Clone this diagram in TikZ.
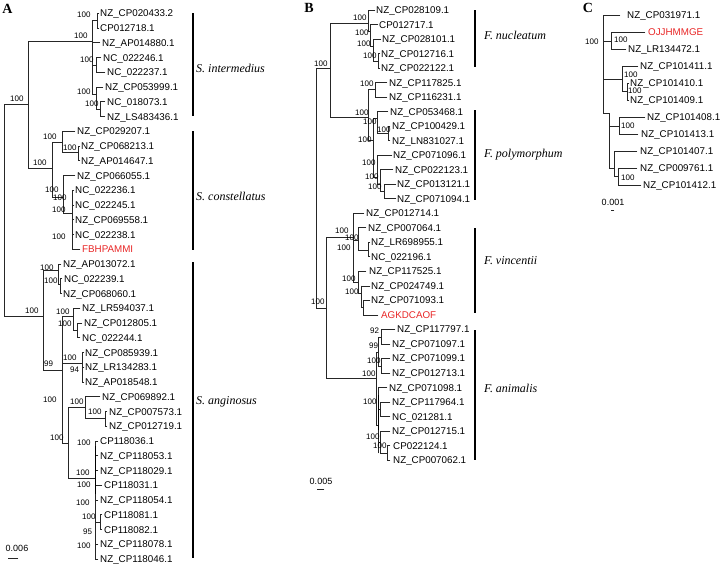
\documentclass[tikz,border=0pt]{standalone}
\usepackage{fontspec}
\setmainfont{Liberation Serif}
\setsansfont{Liberation Sans}
\definecolor{lred}{RGB}{232,38,38}
\tikzset{
 br/.style={line width=0.7pt, black!85, line cap=rect},
 cbar/.style={line width=1.6pt, black},
 leaf/.style={font=\sffamily\fontsize{9.8}{10}\selectfont, anchor=base west, inner sep=0pt, yshift=-3.5pt},
 sup/.style={font=\sffamily\fontsize{8}{8}\selectfont, anchor=base west, inner sep=0pt, yshift=-2.9pt},
 clade/.style={font=\rmfamily\itshape\fontsize{12}{12}\selectfont, anchor=base west, inner sep=0pt, yshift=-4pt},
 panel/.style={font=\rmfamily\bfseries\fontsize{14}{14}\selectfont, inner sep=0pt},
 scl/.style={font=\sffamily\fontsize{9}{9}\selectfont, inner sep=0pt, anchor=base, yshift=-3.2pt},
}
\begin{document}
\begin{tikzpicture}[x=1pt,y=-1pt]
\useasboundingbox (0,0) rectangle (722,565);
% ================= Panel A =================
\node[panel] (pA) at (7.5,9) {A};
\draw[br] (4,104)--(4,316) (4,104)--(28,104) (28,41)--(28,168) (28,41)--(92,41) (92,20)--(92,94);
\draw[br] (92,20)--(97,20) (97,13.3)--(97,28.05) (97,13.3)--(99,13.3) (97,28.05)--(99,28.05);
\draw[br] (92,42.8)--(100,42.8);
\draw[br] (92,65)--(96,65) (96,57.55)--(96,72.3) (96,57.55)--(101,57.55) (96,72.3)--(105,72.3);
\draw[br] (92,94)--(96,94) (96,87.05)--(96,109) (96,87.05)--(103,87.05) (96,109)--(100,109) (100,101.8)--(100,116.55) (100,101.8)--(105,101.8) (100,116.55)--(105,116.55);
\draw[br] (28,168)--(52,168) (52,142)--(52,197);
\draw[br] (52,142)--(62,142) (62,131.3)--(62,152) (62,131.3)--(75,131.3) (62,152)--(78,152) (78,146.05)--(78,160.8) (78,146.05)--(80,146.05) (78,160.8)--(80,160.8);
\draw[br] (52,197)--(63,197) (63,175.55)--(63,213) (63,175.55)--(75,175.55) (63,213)--(72,213) (72,190.3)--(72,249.3);
\foreach \y in {190.3,205.05,219.8,234.55} \draw[br] (72,\y)--(74,\y);
\draw[br] (72,249.3)--(80,249.3);
\draw[br] (4,316)--(43,316) (43,270)--(43,370);
\draw[br] (43,270)--(58,270) (58,264.05)--(58,284) (58,264.05)--(61,264.05) (58,284)--(60,284) (60,278.8)--(60,293.55) (60,278.8)--(62,278.8) (60,293.55)--(62,293.55);
\draw[br] (43,370)--(62,370) (62,316)--(62,443);
\draw[br] (62,316)--(73,316) (73,308.3)--(73,330) (73,308.3)--(80,308.3) (73,330)--(77,330) (77,323.05)--(77,337.8) (77,323.05)--(82,323.05) (77,337.8)--(80,337.8);
\draw[br] (62,363)--(82,363) (82,352.55)--(82,382.05);
\foreach \y in {352.55,367.3,382.05} \draw[br] (82,\y)--(84,\y);
\draw[br] (62,443)--(68,443) (68,407)--(68,478);
\draw[br] (68,407)--(85,407) (85,396.8)--(85,418) (85,396.8)--(100,396.8) (85,418)--(105,418) (105,411.55)--(105,426.3) (105,411.55)--(107,411.55) (105,426.3)--(107,426.3);
\draw[br] (68,478)--(95,478) (95,441.05)--(95,559.05);
\foreach \y in {441.05,455.8,470.55,500.05,544.3,559.05} \draw[br] (95,\y)--(98,\y);
\draw[br] (95,485.3)--(102,485.3);
\draw[br] (95,522)--(100,522) (100,514.8)--(100,529.55) (100,514.8)--(102,514.8) (100,529.55)--(102,529.55);
\draw[line width=1.3pt] (95.5,446)--(95.5,494);
% leaves A
\node[leaf] (a1) at (100,13.3) {NZ\_CP020433.2};
\node[leaf] (a2) at (100,28.05) {CP012718.1};
\node[leaf] (a3) at (102,42.8) {NZ\_AP014880.1};
\node[leaf] (a4) at (103,57.55) {NC\_022246.1};
\node[leaf] (a5) at (107,72.3) {NC\_022237.1};
\node[leaf] (a6) at (105,87.05) {NZ\_CP053999.1};
\node[leaf] (a7) at (107,101.8) {NC\_018073.1};
\node[leaf] (a8) at (107,116.55) {NZ\_LS483436.1};
\node[leaf] (a9) at (77,131.3) {NZ\_CP029207.1};
\node[leaf] (a10) at (81,146.05) {NZ\_CP068213.1};
\node[leaf] (a11) at (81,160.8) {NZ\_AP014647.1};
\node[leaf] (a12) at (77,175.55) {NZ\_CP066055.1};
\node[leaf] (a13) at (75,190.3) {NC\_022236.1};
\node[leaf] (a14) at (75,205.05) {NC\_022245.1};
\node[leaf] (a15) at (75,219.8) {NZ\_CP069558.1};
\node[leaf] (a16) at (75,234.55) {NC\_022238.1};
\node[leaf,text=lred] (a17) at (82,249.3) {FBHPAMMI};
\node[leaf] (a18) at (63,264.05) {NZ\_AP013072.1};
\node[leaf] (a19) at (64,278.8) {NC\_022239.1};
\node[leaf] (a20) at (63,293.55) {NZ\_CP068060.1};
\node[leaf] (a21) at (82,308.3) {NZ\_LR594037.1};
\node[leaf] (a22) at (84,323.05) {NZ\_CP012805.1};
\node[leaf] (a23) at (82,337.8) {NC\_022244.1};
\node[leaf] (a24) at (85,352.55) {NZ\_CP085939.1};
\node[leaf] (a25) at (85,367.3) {NZ\_LR134283.1};
\node[leaf] (a26) at (85,382.05) {NZ\_AP018548.1};
\node[leaf] (a27) at (102,396.8) {NZ\_CP069892.1};
\node[leaf] (a28) at (109,411.55) {NZ\_CP007573.1};
\node[leaf] (a29) at (109,426.3) {NZ\_CP012719.1};
\node[leaf] (a30) at (100,441.05) {CP118036.1};
\node[leaf] (a31) at (100,455.8) {NZ\_CP118053.1};
\node[leaf] (a32) at (100,470.55) {NZ\_CP118029.1};
\node[leaf] (a33) at (104,485.3) {CP118031.1};
\node[leaf] (a34) at (100,500.05) {NZ\_CP118054.1};
\node[leaf] (a35) at (104,514.8) {CP118081.1};
\node[leaf] (a36) at (104,529.55) {CP118082.1};
\node[leaf] (a37) at (100,544.3) {NZ\_CP118078.1};
\node[leaf] (a38) at (100,559.05) {NZ\_CP118046.1};
% supports A
\foreach \x/\y/\t in {10/99/100,74/36/100,77/15/100,80/60/100,77/92/100,85/104/100,
 33/163/100,43/137/100,63/148/100,45/190/100,53/198/100,52/210/100,52/237/100,
 25/311/100,40/268/100,44/281/100,44/364/99,56/312/100,58/324/100,63/358/100,70/370/94,
 43/400/100,50/438/100,70/402/100,88/412/100,76/473/100,77/443/100,77/485/100,76/503/100,
 82/517/100,83/532/95,77/546/100}
 \node[sup] at (\x,\y) {\t};
\draw[cbar] (193,13)--(193,116) (193,131)--(193,250) (193,262)--(193,558);
\node[clade] (sA1) at (196,68) {S. intermedius};
\node[clade] (sA2) at (196,196) {S. constellatus};
\node[clade] (sA3) at (196,400) {S. anginosus};
\node[scl] (scA) at (17,548) {0.006};
\draw[br] (8,558)--(18,558);
% ================= Panel B =================
\node[panel] (pB) at (309,8) {B};
\draw[br] (316,68)--(316,308) (316,68)--(330,68) (316,308)--(326,308);
\draw[br] (330,23)--(330,117) (330,23)--(368,23);
\draw[br] (368,10)--(368,31) (368,10)--(375,10) (368,31)--(370,31) (370,24.52)--(370,46) (370,24.52)--(378,24.52)
 (370,46)--(373,46) (373,39.04)--(373,61) (373,39.04)--(381,39.04) (373,61)--(378,61) (378,53.56)--(378,68.08) (378,53.56)--(380,53.56) (378,68.08)--(380,68.08);
\draw[br] (330,117)--(368,117) (368,89)--(368,140);
\draw[br] (368,89)--(375,89) (375,82.6)--(375,97.12) (375,82.6)--(387,82.6) (375,97.12)--(387,97.12);
\draw[br] (368,140)--(373,140) (373,118)--(373,177);
\draw[br] (373,118)--(377,118) (377,111.64)--(377,133) (377,111.64)--(388,111.64) (377,133)--(388,133) (388,126.16)--(388,140.68) (388,126.16)--(390,126.16) (388,140.68)--(390,140.68);
\draw[br] (373,177)--(377,177) (377,155.2)--(377,184) (377,155.2)--(392,155.2) (377,184)--(380,184) (380,169.72)--(380,191.5) (380,169.72)--(393,169.72)
 (380,191.5)--(384,191.5) (384,184.24)--(384,198.76) (384,184.24)--(396,184.24) (384,198.76)--(396,198.76);
\draw[br] (326,237)--(326,378) (326,237)--(353,237) (353,213.28)--(353,282) (353,213.28)--(364,213.28);
\draw[br] (353,240)--(358,240) (358,227.8)--(358,250) (358,227.8)--(366,227.8) (358,250)--(368,250) (368,242.32)--(368,256.84) (368,242.32)--(370,242.32) (368,256.84)--(370,256.84);
\draw[br] (353,282)--(358,282) (358,271.36)--(358,293) (358,271.36)--(366,271.36) (358,293)--(361,293) (361,285.88)--(361,307.5) (361,285.88)--(370,285.88)
 (361,307.5)--(363,307.5) (363,300.4)--(363,314.92) (363,300.4)--(370,300.4) (363,314.92)--(378,314.92);
\draw[br] (326,378)--(376,378) (376,352)--(376,425);
\draw[br] (376,352)--(378,352) (378,337)--(378,366) (378,337)--(381,337) (381,329.44)--(381,344) (381,329.44)--(395,329.44) (381,343.96)--(390,343.96)
 (378,366)--(381,366) (381,358.48)--(381,373) (381,358.48)--(390,358.48) (381,373)--(390,373);
\draw[br] (376,425)--(378,425) (378,387.52)--(378,453) (378,387.52)--(387,387.52)
 (378,409)--(380,409) (380,402.04)--(380,416.56) (380,402.04)--(390,402.04) (380,416.56)--(390,416.56)
 (378,442)--(380,442) (380,431.08)--(380,453) (380,431.08)--(390,431.08) (380,453)--(387,453) (387,445.6)--(387,460.12) (387,445.6)--(390,445.6) (387,460.12)--(390,460.12);
\draw[line width=1.3pt] (378.3,395)--(378.3,430);
% leaves B
\node[leaf] (b1) at (376,10) {NZ\_CP028109.1};
\node[leaf] (b2) at (379,24.52) {CP012717.1};
\node[leaf] (b3) at (382,39.04) {NZ\_CP028101.1};
\node[leaf] (b4) at (381,53.56) {NZ\_CP012716.1};
\node[leaf] (b5) at (381,68.08) {NZ\_CP022122.1};
\node[leaf] (b6) at (389,82.6) {NZ\_CP117825.1};
\node[leaf] (b7) at (389,97.12) {NZ\_CP116231.1};
\node[leaf] (b8) at (390,111.64) {NZ\_CP053468.1};
\node[leaf] (b9) at (392,126.16) {NZ\_CP100429.1};
\node[leaf] (b10) at (392,140.68) {NZ\_LN831027.1};
\node[leaf] (b11) at (393,155.2) {NZ\_CP071096.1};
\node[leaf] (b12) at (395,169.72) {NZ\_CP022123.1};
\node[leaf] (b13) at (397,184.24) {NZ\_CP013121.1};
\node[leaf] (b14) at (397,198.76) {NZ\_CP071094.1};
\node[leaf] (b15) at (366,213.28) {NZ\_CP012714.1};
\node[leaf] (b16) at (368,227.8) {NZ\_CP007064.1};
\node[leaf] (b17) at (371,242.32) {NZ\_LR698955.1};
\node[leaf] (b18) at (371,256.84) {NC\_022196.1};
\node[leaf] (b19) at (369,271.36) {NZ\_CP117525.1};
\node[leaf] (b20) at (371,285.88) {NZ\_CP024749.1};
\node[leaf] (b21) at (371,300.4) {NZ\_CP071093.1};
\node[leaf,text=lred] (b22) at (381,314.92) {AGKDCAOF};
\node[leaf] (b23) at (397,329.44) {NZ\_CP117797.1};
\node[leaf] (b24) at (392,343.96) {NZ\_CP071097.1};
\node[leaf] (b25) at (392,358.48) {NZ\_CP071099.1};
\node[leaf] (b26) at (392,373) {NZ\_CP012713.1};
\node[leaf] (b27) at (389,387.52) {NZ\_CP071098.1};
\node[leaf] (b28) at (392,402.04) {NZ\_CP117964.1};
\node[leaf] (b29) at (392,416.56) {NC\_021281.1};
\node[leaf] (b30) at (392,431.08) {NZ\_CP012715.1};
\node[leaf] (b31) at (393,445.6) {CP022124.1};
\node[leaf] (b32) at (393,460.12) {NZ\_CP007062.1};
\foreach \x/\y/\t in {314/64/100,311/302/100,353/18/100,355/33/100,357/44/100,363/56/100,
 355/113/100,360/84/100,358/140/100,363/122/100,377/130/100,362/163/100,365/177/100,368/187/100,
 335/231/100,345/238/100,337/248/100,342/279/100,345/292/100,
 362/374/100,370/331/92,369/346/99,367/361/100,363/402/100,366/437/100,373/446/100}
 \node[sup] at (\x,\y) {\t};
\draw[cbar] (475,10)--(475,67) (475,110)--(475,200) (475,228)--(475,313) (475,330)--(475,460);
\node[clade] (sB1) at (484,35) {F. nucleatum};
\node[clade] (sB2) at (484,153) {F. polymorphum};
\node[clade] (sB3) at (484,260) {F. vincentii};
\node[clade] (sB4) at (484,388) {F. animalis};
\node[scl] (scB) at (321,481) {0.005};
\draw[br] (317,489)--(324,489);
% ================= Panel C =================
\node[panel] (pC) at (588,8) {C};
\draw[br] (603,15)--(603,113) (603,15)--(620,15);
\draw[br] (603,41)--(611,41) (611,32)--(611,49) (611,32)--(645,32) (611,49)--(626,49);
\draw[br] (603,79)--(622,79) (622,66)--(622,91) (622,66)--(638,66) (622,91)--(627,91) (627,83)--(627,100) (627,83)--(629,83) (627,100)--(629,100);
\draw[br] (603,113)--(609,113) (609,113)--(609,168);
\draw[br] (609,126)--(619,126) (619,117)--(619,134) (619,117)--(645,117) (619,134)--(638,134);
\draw[br] (609,168)--(614,168) (614,151)--(614,176) (614,151)--(637,151) (614,176)--(618,176) (618,168)--(618,185) (618,168)--(637,168) (618,185)--(641,185);
\node[leaf] (c1) at (627,15) {NZ\_CP031971.1};
\node[leaf,text=lred] (c2) at (648,32) {OJJHMMGE};
\node[leaf] (c3) at (628,49) {NZ\_LR134472.1};
\node[leaf] (c4) at (640,66) {NZ\_CP101411.1};
\node[leaf] (c5) at (630,83) {NZ\_CP101410.1};
\node[leaf] (c6) at (630,100) {NZ\_CP101409.1};
\node[leaf] (c7) at (647,117) {NZ\_CP101408.1};
\node[leaf] (c8) at (641,134) {NZ\_CP101413.1};
\node[leaf] (c9) at (640,151) {NZ\_CP101407.1};
\node[leaf] (c10) at (640,168) {NZ\_CP009761.1};
\node[leaf] (c11) at (643,185) {NZ\_CP101412.1};
\foreach \x/\y/\t in {585/42/100,614/40/100,624/75/100,628/91/100,621/126/100,621/178/100}
 \node[sup] at (\x,\y) {\t};
\node[scl] (scC) at (613,202) {0.001};
\draw[br] (611,210)--(614,210);
\end{tikzpicture}
\end{document}
